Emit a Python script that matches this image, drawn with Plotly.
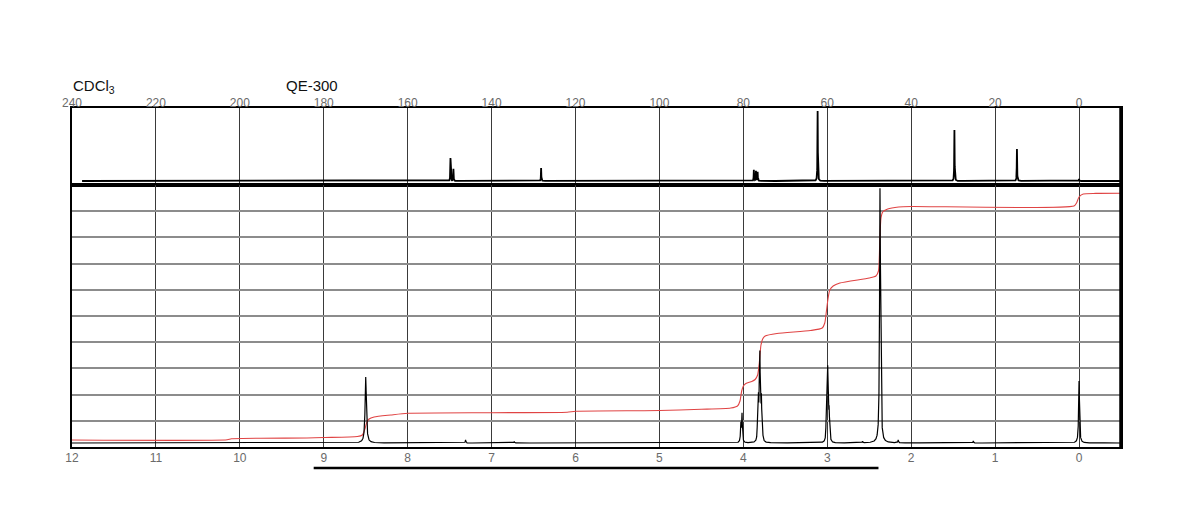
import numpy as np
import plotly.graph_objects as go

# ---------------- data ----------------
# 13C spectrum (top panel): peak position (ppm) and height (arbitrary units)
c_peak_ppm = [149.8, 149.1, 128.2, 77.5, 77.0, 76.6, 62.3, 29.7, 14.8, 0.0]
c_peak_height = [23, 12, 13, 11, 10, 9, 70, 51, 32, 2]
c_ticks = [240, 220, 200, 180, 160, 140, 120, 100, 80, 60, 40, 20, 0]

# 1H spectrum (bottom panel): peak position (ppm), height, half-width (ppm)
h_peak_ppm = [8.50, 7.31, 6.73, 4.030, 4.016,
              3.830, 3.820, 3.810, 3.803, 3.795, 3.785, 3.775,
              3.012, 3.003, 2.995, 2.987, 2.978, 2.970,
              2.580, 2.372, 2.364, 2.155, 1.26, 0.0]
h_peak_height = [66, 3, 1.5, 18, 28,
                 28, 36, 40, 70, 40, 36, 24,
                 25, 32, 62, 32, 25, 14,
                 1.5, 238, 60, 3, 2, 62]
h_peak_width = [0.009, 0.004, 0.004, 0.005, 0.005,
                0.004, 0.004, 0.004, 0.004, 0.004, 0.004, 0.004,
                0.004, 0.004, 0.004, 0.004, 0.004, 0.004,
                0.004, 0.006, 0.005, 0.004, 0.004, 0.006]
h_ticks = [12, 11, 10, 9, 8, 7, 6, 5, 4, 3, 2, 1, 0]

# integral curve (red), read point by point
int_ppm = [12.0, 10.15, 10.1, 9.2, 9.0, 8.6, 8.54, 8.51, 8.49, 8.46, 8.40, 8.2, 8.0,
           7.0, 6.1, 6.0, 5.0, 4.5, 4.15, 4.07, 4.04, 4.02, 4.0, 3.97, 3.9, 3.86,
           3.83, 3.81, 3.80, 3.79, 3.77, 3.74, 3.6, 3.2, 3.06, 3.03, 3.01, 2.99,
           2.97, 2.93, 2.85, 2.5, 2.42, 2.39, 2.375, 2.36, 2.34, 2.28, 2.15, 2.0,
           0.06, 0.03, 0.0, -0.05, -0.2, -0.5]
int_value = [3, 3.2, 4.2, 5, 5.5, 6.5, 8, 14, 20, 24, 26, 28, 29.7,
             30.3, 30.8, 31.8, 32.5, 33.7, 35, 37, 42, 52, 57, 59.5, 61.5, 63.5,
             68, 80, 90, 98, 104, 107, 109.5, 112.5, 115, 120, 132, 145,
             153, 157, 160, 165, 167, 172, 200, 225, 231, 234, 236, 236.5,
             237, 240, 246, 249, 249.6, 249.8]

# integration range bar (ppm)
bar_ppm = [9.12, 2.39]

# ---------------- build curves ----------------
cx = np.linspace(237.6, -10, 12381)
cy = np.zeros_like(cx)
for p, h in zip(c_peak_ppm, c_peak_height):
    g = 0.05
    cy += h * g**2 / (g**2 + (cx - p) ** 2)

hx = np.linspace(12, -0.5, 25001)
hy = np.zeros_like(hx)
for p, h, g in zip(h_peak_ppm, h_peak_height, h_peak_width):
    hy += h * g**2 / (g**2 + (hx - p) ** 2)

W, H = 1200, 518
OFF = 8      # page margin of the browser around the figure
ML = 20      # explicit left margin of the figure
PW = W - ML  # width of the paper area


def px_x(px):
    return (px - OFF - ML) / PW


def py(px):
    return 1 - (px - OFF) / H


x_dom = [px_x(72), px_x(1121)]
top_dom = [py(185), py(108)]
bot_dom = [py(447), py(185)]

fig = go.Figure()
fig.add_trace(go.Scatter(x=cx, y=cy, mode="lines", line=dict(color="black", width=1.8),
                         xaxis="x", yaxis="y", hoverinfo="skip"))
fig.add_trace(go.Scatter(x=int_ppm, y=int_value, mode="lines",
                         line=dict(color="#e04444", width=1.1, shape="spline", smoothing=0.6),
                         xaxis="x2", yaxis="y2", hoverinfo="skip"))
fig.add_trace(go.Scatter(x=hx, y=hy, mode="lines", line=dict(color="black", width=1.2),
                         xaxis="x2", yaxis="y2", hoverinfo="skip"))

label_font = dict(family="Liberation Sans, Arial, sans-serif", size=12, color="#6a6a6a")

fig.update_layout(
    width=W, height=H,
    margin=dict(l=ML, r=0, t=0, b=0, autoexpand=False),
    paper_bgcolor="white", plot_bgcolor="white",
    showlegend=False,
    xaxis=dict(domain=x_dom, range=[240, -10], side="top", anchor="y",
               tickvals=c_ticks, ticktext=[str(t) for t in c_ticks],
               showgrid=True, gridcolor="#3a3a3a", gridwidth=1,
               showline=True, linecolor="black", linewidth=2, mirror=True,
               ticks="", tickfont=label_font, zeroline=False, ticklabelstandoff=-6,
               automargin=False),
    yaxis=dict(domain=top_dom, range=[-4, 73], anchor="x",
               showgrid=False, showticklabels=False, zeroline=False,
               showline=True, linecolor="black", linewidth=2, mirror=True, ticks="",
               automargin=False),
    xaxis2=dict(domain=x_dom, range=[12, -0.5], side="bottom", anchor="y2",
                tickvals=h_ticks, ticktext=[str(t) for t in h_ticks],
                showgrid=True, gridcolor="#3a3a3a", gridwidth=1,
                showline=True, linecolor="black", linewidth=2, mirror=True,
                ticks="", tickfont=label_font, zeroline=False, ticklabelstandoff=-1,
                automargin=False),
    yaxis2=dict(domain=bot_dom, range=[-4, 258], anchor="x2",
                tickvals=list(np.linspace(-4, 258, 11)),
                showgrid=True, gridcolor="#8c8c8c", gridwidth=1.5,
                showticklabels=False, zeroline=False,
                showline=True, linecolor="black", linewidth=2, mirror=True, ticks="",
                automargin=False),
)

# thicker right border across both panels
fig.add_shape(type="line", xref="paper", yref="paper", x0=x_dom[1], x1=x_dom[1],
              y0=bot_dom[0], y1=top_dom[1], line=dict(color="black", width=3.5))

# integration range bar
fig.add_shape(type="line", xref="x2", yref="paper", x0=bar_ppm[0], x1=bar_ppm[1],
              y0=py(468), y1=py(468), line=dict(color="black", width=2.5))

title_font = dict(family="Liberation Sans, Arial, sans-serif", size=15, color="#111111")
fig.add_annotation(text="CDCl<sub>3</sub>", xref="paper", yref="paper", x=px_x(71), y=py(86),
                   xanchor="left", yanchor="middle", showarrow=False, font=title_font)
fig.add_annotation(text="QE-300", xref="paper", yref="paper", x=px_x(284), y=py(85),
                   xanchor="left", yanchor="middle", showarrow=False, font=title_font)

fig.write_html("out.html")
